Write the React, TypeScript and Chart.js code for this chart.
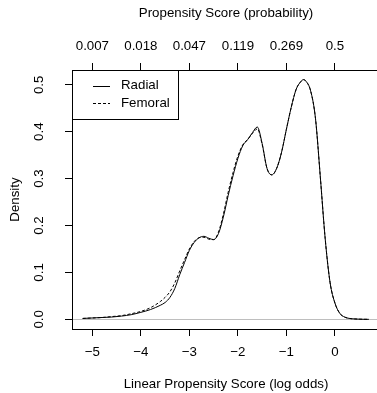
import React, { useEffect, useRef } from "react";
import { Chart, registerables } from "chart.js";
Chart.register(...registerables);

const logOdds = [-5.2, -5.0, -4.8, -4.6, -4.4, -4.2, -4.0, -3.8, -3.6, -3.5, -3.4, -3.3, -3.2, -3.1, -3.0, -2.9, -2.8, -2.7, -2.6, -2.5, -2.4, -2.3, -2.2, -2.1, -2.0, -1.9, -1.8, -1.7, -1.6, -1.5, -1.4, -1.3, -1.2, -1.1, -1.0, -0.9, -0.8, -0.7, -0.65, -0.6, -0.5, -0.4, -0.3, -0.2, -0.1, 0.0, 0.1, 0.2, 0.3, 0.4, 0.5, 0.6, 0.7];
const radial = [0.002, 0.003, 0.004, 0.005, 0.007, 0.010, 0.015, 0.021, 0.030, 0.036, 0.047, 0.066, 0.095, 0.121, 0.147, 0.164, 0.174, 0.177, 0.173, 0.170, 0.183, 0.218, 0.264, 0.306, 0.343, 0.370, 0.383, 0.398, 0.410, 0.375, 0.322, 0.308, 0.322, 0.356, 0.405, 0.452, 0.490, 0.507, 0.511, 0.508, 0.487, 0.428, 0.303, 0.172, 0.079, 0.035, 0.013, 0.005, 0.002, 0.001, 0.0005, 0.0002, 0.0001];
const femoral = [0.002, 0.003, 0.004, 0.006, 0.008, 0.012, 0.017, 0.025, 0.038, 0.047, 0.059, 0.078, 0.103, 0.127, 0.150, 0.166, 0.174, 0.175, 0.171, 0.170, 0.186, 0.224, 0.271, 0.313, 0.348, 0.372, 0.383, 0.396, 0.406, 0.373, 0.322, 0.308, 0.322, 0.356, 0.405, 0.452, 0.490, 0.507, 0.511, 0.508, 0.487, 0.428, 0.303, 0.172, 0.079, 0.035, 0.013, 0.005, 0.002, 0.001, 0.0005, 0.0002, 0.0001];

const seriesNames = ["Radial", "Femoral"];
const xTicks = [-5, -4, -3, -2, -1, 0];
const xTickLabels = ["\u22125", "\u22124", "\u22123", "\u22122", "\u22121", "0"];
const topTickLabels = ["0.007", "0.018", "0.047", "0.119", "0.269", "0.5"];
const yTicks = [0, 0.1, 0.2, 0.3, 0.4, 0.5];
const yTickLabels = ["0.0", "0.1", "0.2", "0.3", "0.4", "0.5"];
const xTitle = "Linear Propensity Score (log odds)";
const topTitle = "Propensity Score (probability)";
const yTitle = "Density";

const FONT = "'Liberation Sans', Arial, Helvetica, sans-serif";
const FONT_SIZE = 13.3;
const X_MIN = -5.42;
const X_MAX = 0.93;
const Y_MIN = -0.0205;
const Y_MAX = 0.5315;

const boxLegend = {
  id: "boxLegend",
  afterDatasetsDraw(chart: any) {
    const { ctx, chartArea } = chart;
    const x0 = chartArea.left;
    const y0 = chartArea.top;
    const w = 106;
    const h = 49;
    ctx.save();
    ctx.fillStyle = "#ffffff";
    ctx.fillRect(x0, y0, w, h);
    ctx.strokeStyle = "#000000";
    ctx.lineWidth = 1;
    ctx.strokeRect(x0 + 0.5, y0 + 0.5, w, h);
    chart.data.datasets.forEach((ds: any, i: number) => {
      const y = y0 + 15.5 + i * 17.5;
      ctx.setLineDash(ds.borderDash || []);
      ctx.strokeStyle = ds.borderColor;
      ctx.beginPath();
      ctx.moveTo(x0 + 21, Math.round(y) + 0.5);
      ctx.lineTo(x0 + 38, Math.round(y) + 0.5);
      ctx.stroke();
      ctx.setLineDash([]);
      ctx.fillStyle = "#000000";
      ctx.font = FONT_SIZE + "px " + FONT;
      ctx.textBaseline = "middle";
      ctx.textAlign = "left";
      ctx.fillText(ds.label, x0 + 49, y);
    });
    ctx.restore();
  },
};

const plotBox = {
  id: "plotBox",
  afterDraw(chart: any) {
    const { ctx, chartArea } = chart;
    ctx.save();
    ctx.strokeStyle = "#000";
    ctx.lineWidth = 1;
    ctx.beginPath();
    ctx.moveTo(Math.round(chartArea.right) - 0.5, chartArea.top);
    ctx.lineTo(Math.round(chartArea.right) - 0.5, chartArea.bottom);
    ctx.stroke();
    ctx.restore();
  },
};

export default function App() {
  const ref = useRef<HTMLCanvasElement>(null);
  useEffect(() => {
    document.body.style.margin = "0";
    const canvas = ref.current!;
    const tickFont = { family: FONT, size: FONT_SIZE };
    const chart = new Chart(canvas, {
      type: "line",
      data: {
        datasets: [
          {
            label: seriesNames[0],
            data: logOdds.map((x, i) => ({ x, y: radial[i] })),
            borderColor: "#000000",
            borderWidth: 1,
            pointRadius: 0,
            cubicInterpolationMode: "monotone",
            fill: false,
          },
          {
            label: seriesNames[1],
            data: logOdds.map((x, i) => ({ x, y: femoral[i] })),
            borderColor: "#000000",
            borderWidth: 1,
            borderDash: [3, 2],
            pointRadius: 0,
            cubicInterpolationMode: "monotone",
            fill: false,
          },
        ],
      },
      options: {
        animation: false,
        responsive: false,
        devicePixelRatio: 1,
        layout: { padding: 0 },
        plugins: { legend: { display: false }, tooltip: { enabled: false } },
        scales: {
          x: {
            type: "linear",
            position: "bottom",
            min: X_MIN,
            max: X_MAX,
            afterBuildTicks: (s: any) => {
              s.ticks = xTicks.map((v) => ({ value: v }));
            },
            afterFit: (s: any) => {
              s.height = 64;
            },
            ticks: {
              font: tickFont,
              color: "#000",
              padding: 8,
              maxRotation: 0,
              minRotation: 0,
              callback: (v: any) => xTickLabels[xTicks.indexOf(Math.round(Number(v)))] ?? "",
            },
            grid: { drawOnChartArea: false, drawTicks: true, tickLength: 7, tickColor: "#000", tickWidth: 1 },
            border: { display: true, color: "#000", width: 1 },
            title: { display: true, text: xTitle, font: tickFont, color: "#000", padding: { top: 0, bottom: 1 } },
          },
          x2: {
            type: "linear",
            position: "top",
            min: X_MIN,
            max: X_MAX,
            afterBuildTicks: (s: any) => {
              s.ticks = xTicks.map((v) => ({ value: v }));
            },
            afterFit: (s: any) => {
              s.height = 70;
            },
            ticks: {
              font: tickFont,
              color: "#000",
              padding: 9,
              maxRotation: 0,
              minRotation: 0,
              callback: (v: any) => topTickLabels[xTicks.indexOf(Math.round(Number(v)))] ?? "",
            },
            grid: { drawOnChartArea: false, drawTicks: true, tickLength: 7, tickColor: "#000", tickWidth: 1 },
            border: { display: true, color: "#000", width: 1 },
            title: { display: true, text: topTitle, font: tickFont, color: "#000", padding: { top: 5, bottom: 0 } },
          },
          y: {
            type: "linear",
            position: "left",
            min: Y_MIN,
            max: Y_MAX,
            afterBuildTicks: (s: any) => {
              s.ticks = yTicks.map((v) => ({ value: v }));
            },
            afterFit: (s: any) => {
              s.width = 72;
            },
            ticks: {
              font: tickFont,
              color: "#000",
              padding: 16,
              minRotation: 90,
              maxRotation: 90,
              crossAlign: "center",
              callback: (v: any) => {
                const idx = yTicks.findIndex((t) => Math.abs(t - Number(v)) < 1e-6);
                return idx >= 0 ? yTickLabels[idx] : "";
              },
            },
            grid: {
              drawOnChartArea: true,
              drawTicks: true,
              tickLength: 7,
              tickColor: "#000",
              tickWidth: 1,
              lineWidth: 1,
              color: (c: any) => (c.tick && Math.abs(c.tick.value) < 1e-9 ? "#bebebe" : "rgba(0,0,0,0)"),
            },
            border: { display: true, color: "#000", width: 1 },
            title: { display: true, text: yTitle, font: tickFont, color: "#000", padding: { top: 7, bottom: 0 } },
          },
        },
      },
      plugins: [boxLegend, plotBox],
    } as any);
    return () => chart.destroy();
  }, []);
  return (
    <div style={{ position: "absolute", left: 0, top: 0, width: 377, height: 393, overflow: "hidden", background: "#fff" }}>
      <canvas ref={ref} width={380} height={393} style={{ display: "block", width: 380, height: 393 }} />
    </div>
  );
}
